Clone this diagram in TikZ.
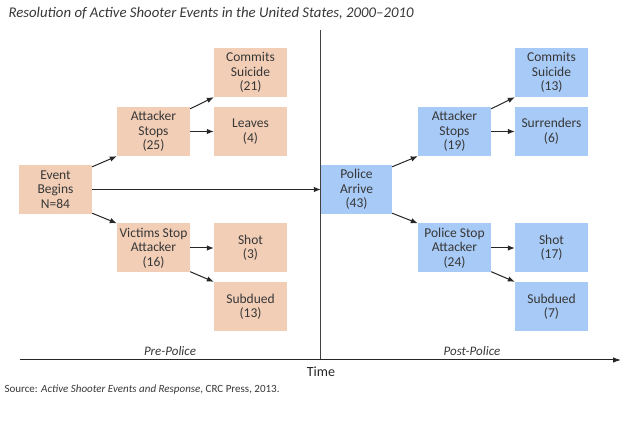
\documentclass[tikz,border=0pt]{standalone}
\usepackage{fontspec}
\setmainfont{Carlito}
\usetikzlibrary{arrows.meta, positioning}
\definecolor{prebox}{RGB}{242,206,183}
\definecolor{postbox}{RGB}{168,202,246}
\definecolor{inkgrey}{RGB}{55,55,55}

\begin{document}
\begin{tikzpicture}[x=1pt, y=-1pt,
  stage/.style={minimum width=73pt, minimum height=49pt, align=center, inner sep=0pt,
    font=\fontsize{13.5}{14.5}\selectfont, text=inkgrey},
  prestage/.style={stage, fill=prebox},
  poststage/.style={stage, fill=postbox},
  flow/.style={-{Latex[length=7pt, width=5.5pt]}, line width=1pt, draw=black!85},
  period/.style={font=\fontsize{13}{15}\selectfont\itshape, text=inkgrey}]
\useasboundingbox (0,0) rectangle (630,422);

\node[anchor=west, font=\fontsize{14.8}{16}\selectfont\itshape, text=inkgrey] (title) at (5,13)
  {Resolution of Active Shooter Events in the United States, 2000--2010};

% time line
\coordinate (divtop) at (320,30);
\coordinate (divbot) at (320,360);
\coordinate (axisL) at (20,360);
\coordinate (axisR) at (621,360);
\draw[line width=0.8pt, black!75] (divtop) -- (divbot);
\draw[line width=1pt, black!85, -{Latex[length=8pt, width=5.5pt]}] (axisL) -- (axisR);

% pre-police
\node[prestage] (begin) at (55.5,189.5) {Event\\Begins\\N=84};
\node[prestage] (stopsA) at (153.5,131.5) {Attacker\\Stops\\(25)};
\node[prestage] (victims) at (153.5,248) {Victims Stop\\Attacker\\(16)};
\node[prestage] (suicideA) at (250.5,72.5) {Commits\\Suicide\\(21)};
\node[prestage] (leaves) at (250.5,131.5) {Leaves\\(4)};
\node[prestage] (shotA) at (250.5,248) {Shot\\(3)};
\node[prestage] (subduedA) at (250.5,306.5) {Subdued\\(13)};

% post-police
\node[poststage, minimum width=71pt] (police) at (356.5,189.5) {Police\\Arrive\\(43)};
\node[poststage] (stopsB) at (454.5,131.5) {Attacker\\Stops\\(19)};
\node[poststage] (polstop) at (454.5,248) {Police Stop\\Attacker\\(24)};
\node[poststage] (suicideB) at (551.5,72.5) {Commits\\Suicide\\(13)};
\node[poststage] (surrenders) at (551.5,131.5) {Surrenders\\(6)};
\node[poststage] (shotB) at (551.5,248) {Shot\\(17)};
\node[poststage] (subduedB) at (551.5,306.5) {Subdued\\(7)};

\draw[flow] ([yshift=-2pt]begin.north east) -- (stopsA.south west);
\draw[flow] ([yshift=1pt]begin.south east) -- (victims.north west);
\draw[flow] (begin) -- (police);
\draw[flow] ([yshift=-2pt]stopsA.north east) -- (suicideA.south west);
\draw[flow] (stopsA) -- (leaves);
\draw[flow] (victims) -- (shotA);
\draw[flow] ([yshift=1pt]victims.south east) -- (subduedA.north west);

\draw[flow] ([yshift=-2pt]police.north east) -- (stopsB.south west);
\draw[flow] ([yshift=1pt]police.south east) -- (polstop.north west);
\draw[flow] ([yshift=-2pt]stopsB.north east) -- (suicideB.south west);
\draw[flow] (stopsB) -- (surrenders);
\draw[flow] (polstop) -- (shotB);
\draw[flow] ([yshift=1pt]polstop.south east) -- (subduedB.north west);

\node[period] (pre) at (170,351) {Pre-Police};
\node[period] (post) at (472,351) {Post-Police};
\node[font=\fontsize{14}{16}\selectfont, text=black!85] (time) at (321,372) {Time};

\node[anchor=west, font=\fontsize{11}{13}\selectfont, text=inkgrey] (source) at (1,390)
  {Source: \textit{Active Shooter Events and Response}, CRC Press, 2013.};
\end{tikzpicture}
\end{document}
